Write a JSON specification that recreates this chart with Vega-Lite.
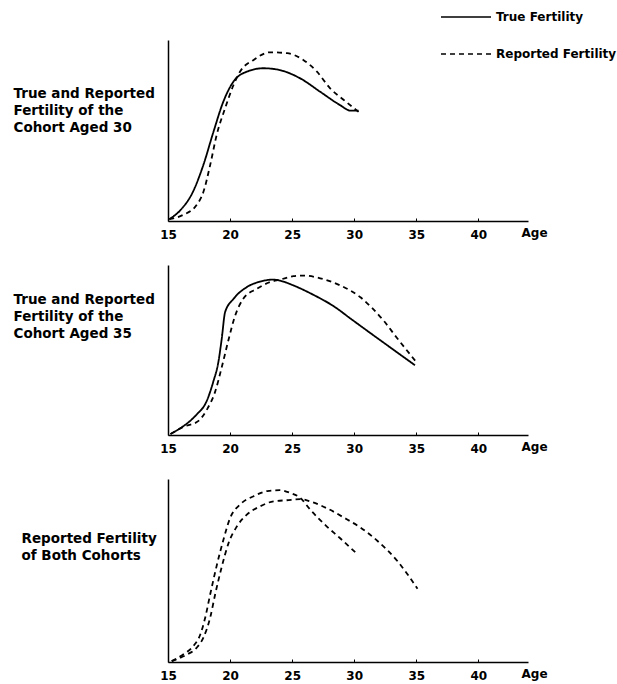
{
  "$schema": "https://vega.github.io/schema/vega-lite/v6.json",
  "background": "white",
  "padding": {"left": 13, "top": 9, "right": 0, "bottom": 2},
  "data": {"values": [
    {"p": 1, "s": "T30", "t": "True Fertility", "a": 15.1, "v": 1},
    {"p": 1, "s": "T30", "t": "True Fertility", "a": 16.0, "v": 6},
    {"p": 1, "s": "T30", "t": "True Fertility", "a": 17.0, "v": 16},
    {"p": 1, "s": "T30", "t": "True Fertility", "a": 17.85, "v": 31},
    {"p": 1, "s": "T30", "t": "True Fertility", "a": 18.65, "v": 49},
    {"p": 1, "s": "T30", "t": "True Fertility", "a": 19.46, "v": 66},
    {"p": 1, "s": "T30", "t": "True Fertility", "a": 20.27, "v": 77},
    {"p": 1, "s": "T30", "t": "True Fertility", "a": 21.35, "v": 82.5},
    {"p": 1, "s": "T30", "t": "True Fertility", "a": 22.7, "v": 84.4},
    {"p": 1, "s": "T30", "t": "True Fertility", "a": 24.0, "v": 83.4},
    {"p": 1, "s": "T30", "t": "True Fertility", "a": 25.65, "v": 78.8},
    {"p": 1, "s": "T30", "t": "True Fertility", "a": 27.26, "v": 71.4},
    {"p": 1, "s": "T30", "t": "True Fertility", "a": 28.87, "v": 64},
    {"p": 1, "s": "T30", "t": "True Fertility", "a": 29.7, "v": 61},
    {"p": 1, "s": "T30", "t": "True Fertility", "a": 30.35, "v": 61},
    {"p": 1, "s": "R30", "t": "Reported Fertility", "a": 15.1, "v": 1},
    {"p": 1, "s": "R30", "t": "Reported Fertility", "a": 16.2, "v": 3.3},
    {"p": 1, "s": "R30", "t": "Reported Fertility", "a": 17.3, "v": 8.8},
    {"p": 1, "s": "R30", "t": "Reported Fertility", "a": 17.85, "v": 16},
    {"p": 1, "s": "R30", "t": "Reported Fertility", "a": 18.4, "v": 31},
    {"p": 1, "s": "R30", "t": "Reported Fertility", "a": 18.92, "v": 47.5},
    {"p": 1, "s": "R30", "t": "Reported Fertility", "a": 19.6, "v": 62.3},
    {"p": 1, "s": "R30", "t": "Reported Fertility", "a": 20.27, "v": 75},
    {"p": 1, "s": "R30", "t": "Reported Fertility", "a": 20.8, "v": 82.5},
    {"p": 1, "s": "R30", "t": "Reported Fertility", "a": 21.9, "v": 89},
    {"p": 1, "s": "R30", "t": "Reported Fertility", "a": 23.2, "v": 93.2},
    {"p": 1, "s": "R30", "t": "Reported Fertility", "a": 24.6, "v": 92.7},
    {"p": 1, "s": "R30", "t": "Reported Fertility", "a": 25.9, "v": 89},
    {"p": 1, "s": "R30", "t": "Reported Fertility", "a": 27.0, "v": 82.5},
    {"p": 1, "s": "R30", "t": "Reported Fertility", "a": 28.06, "v": 73.3},
    {"p": 1, "s": "R30", "t": "Reported Fertility", "a": 29.14, "v": 67},
    {"p": 1, "s": "R30", "t": "Reported Fertility", "a": 30.4, "v": 60},
    {"p": 2, "s": "T35", "t": "True Fertility", "a": 15.2, "v": 0.6},
    {"p": 2, "s": "T35", "t": "True Fertility", "a": 16.2, "v": 5},
    {"p": 2, "s": "T35", "t": "True Fertility", "a": 17.3, "v": 12},
    {"p": 2, "s": "T35", "t": "True Fertility", "a": 18.1, "v": 19.7},
    {"p": 2, "s": "T35", "t": "True Fertility", "a": 18.65, "v": 31.4},
    {"p": 2, "s": "T35", "t": "True Fertility", "a": 19.06, "v": 43},
    {"p": 2, "s": "T35", "t": "True Fertility", "a": 19.33, "v": 56.7},
    {"p": 2, "s": "T35", "t": "True Fertility", "a": 19.6, "v": 72.3},
    {"p": 2, "s": "T35", "t": "True Fertility", "a": 20.27, "v": 80},
    {"p": 2, "s": "T35", "t": "True Fertility", "a": 21.35, "v": 87},
    {"p": 2, "s": "T35", "t": "True Fertility", "a": 22.4, "v": 90.2},
    {"p": 2, "s": "T35", "t": "True Fertility", "a": 23.5, "v": 91.4},
    {"p": 2, "s": "T35", "t": "True Fertility", "a": 24.03, "v": 90.8},
    {"p": 2, "s": "T35", "t": "True Fertility", "a": 25.1, "v": 88},
    {"p": 2, "s": "T35", "t": "True Fertility", "a": 26.7, "v": 82.5},
    {"p": 2, "s": "T35", "t": "True Fertility", "a": 28.4, "v": 75.5},
    {"p": 2, "s": "T35", "t": "True Fertility", "a": 29.7, "v": 68.5},
    {"p": 2, "s": "T35", "t": "True Fertility", "a": 31.2, "v": 60.5},
    {"p": 2, "s": "T35", "t": "True Fertility", "a": 33.0, "v": 51},
    {"p": 2, "s": "T35", "t": "True Fertility", "a": 34.9, "v": 41},
    {"p": 2, "s": "R35", "t": "Reported Fertility", "a": 15.2, "v": 0.6},
    {"p": 2, "s": "R35", "t": "Reported Fertility", "a": 16.3, "v": 5},
    {"p": 2, "s": "R35", "t": "Reported Fertility", "a": 17.4, "v": 8},
    {"p": 2, "s": "R35", "t": "Reported Fertility", "a": 18.2, "v": 15.8},
    {"p": 2, "s": "R35", "t": "Reported Fertility", "a": 18.8, "v": 25.5},
    {"p": 2, "s": "R35", "t": "Reported Fertility", "a": 19.3, "v": 39},
    {"p": 2, "s": "R35", "t": "Reported Fertility", "a": 19.84, "v": 55},
    {"p": 2, "s": "R35", "t": "Reported Fertility", "a": 20.4, "v": 70},
    {"p": 2, "s": "R35", "t": "Reported Fertility", "a": 21.05, "v": 80},
    {"p": 2, "s": "R35", "t": "Reported Fertility", "a": 22.15, "v": 86},
    {"p": 2, "s": "R35", "t": "Reported Fertility", "a": 23.2, "v": 89.9},
    {"p": 2, "s": "R35", "t": "Reported Fertility", "a": 24.03, "v": 91.4},
    {"p": 2, "s": "R35", "t": "Reported Fertility", "a": 25.1, "v": 93.4},
    {"p": 2, "s": "R35", "t": "Reported Fertility", "a": 25.9, "v": 93.8},
    {"p": 2, "s": "R35", "t": "Reported Fertility", "a": 27.26, "v": 92.2},
    {"p": 2, "s": "R35", "t": "Reported Fertility", "a": 28.87, "v": 88},
    {"p": 2, "s": "R35", "t": "Reported Fertility", "a": 30.5, "v": 81},
    {"p": 2, "s": "R35", "t": "Reported Fertility", "a": 31.4, "v": 75},
    {"p": 2, "s": "R35", "t": "Reported Fertility", "a": 32.4, "v": 67},
    {"p": 2, "s": "R35", "t": "Reported Fertility", "a": 33.4, "v": 57.5},
    {"p": 2, "s": "R35", "t": "Reported Fertility", "a": 35.05, "v": 42.5},
    {"p": 3, "s": "R30", "t": "Reported Fertility", "a": 15.3, "v": 0.5},
    {"p": 3, "s": "R30", "t": "Reported Fertility", "a": 16.2, "v": 4},
    {"p": 3, "s": "R30", "t": "Reported Fertility", "a": 17.04, "v": 8.7},
    {"p": 3, "s": "R30", "t": "Reported Fertility", "a": 17.6, "v": 15},
    {"p": 3, "s": "R30", "t": "Reported Fertility", "a": 18.0, "v": 24.3},
    {"p": 3, "s": "R30", "t": "Reported Fertility", "a": 18.4, "v": 37},
    {"p": 3, "s": "R30", "t": "Reported Fertility", "a": 18.9, "v": 52},
    {"p": 3, "s": "R30", "t": "Reported Fertility", "a": 19.46, "v": 66.7},
    {"p": 3, "s": "R30", "t": "Reported Fertility", "a": 20.0, "v": 78.6},
    {"p": 3, "s": "R30", "t": "Reported Fertility", "a": 20.8, "v": 86},
    {"p": 3, "s": "R30", "t": "Reported Fertility", "a": 21.9, "v": 90.6},
    {"p": 3, "s": "R30", "t": "Reported Fertility", "a": 23.0, "v": 93.4},
    {"p": 3, "s": "R30", "t": "Reported Fertility", "a": 24.0, "v": 93.9},
    {"p": 3, "s": "R30", "t": "Reported Fertility", "a": 24.84, "v": 92.4},
    {"p": 3, "s": "R30", "t": "Reported Fertility", "a": 25.65, "v": 89.7},
    {"p": 3, "s": "R30", "t": "Reported Fertility", "a": 26.45, "v": 83.3},
    {"p": 3, "s": "R30", "t": "Reported Fertility", "a": 27.8, "v": 74},
    {"p": 3, "s": "R30", "t": "Reported Fertility", "a": 28.87, "v": 67.6},
    {"p": 3, "s": "R30", "t": "Reported Fertility", "a": 30.08, "v": 60},
    {"p": 3, "s": "R35", "t": "Reported Fertility", "a": 15.3, "v": 0.5},
    {"p": 3, "s": "R35", "t": "Reported Fertility", "a": 16.5, "v": 4},
    {"p": 3, "s": "R35", "t": "Reported Fertility", "a": 17.3, "v": 7.7},
    {"p": 3, "s": "R35", "t": "Reported Fertility", "a": 17.85, "v": 13.3},
    {"p": 3, "s": "R35", "t": "Reported Fertility", "a": 18.4, "v": 24.3},
    {"p": 3, "s": "R35", "t": "Reported Fertility", "a": 18.8, "v": 37},
    {"p": 3, "s": "R35", "t": "Reported Fertility", "a": 19.33, "v": 52},
    {"p": 3, "s": "R35", "t": "Reported Fertility", "a": 19.87, "v": 64.8},
    {"p": 3, "s": "R35", "t": "Reported Fertility", "a": 20.54, "v": 74},
    {"p": 3, "s": "R35", "t": "Reported Fertility", "a": 21.35, "v": 80.5},
    {"p": 3, "s": "R35", "t": "Reported Fertility", "a": 22.4, "v": 85},
    {"p": 3, "s": "R35", "t": "Reported Fertility", "a": 23.5, "v": 87.8},
    {"p": 3, "s": "R35", "t": "Reported Fertility", "a": 24.57, "v": 88.4},
    {"p": 3, "s": "R35", "t": "Reported Fertility", "a": 25.65, "v": 89},
    {"p": 3, "s": "R35", "t": "Reported Fertility", "a": 26.45, "v": 87.8},
    {"p": 3, "s": "R35", "t": "Reported Fertility", "a": 27.8, "v": 84},
    {"p": 3, "s": "R35", "t": "Reported Fertility", "a": 29.4, "v": 78},
    {"p": 3, "s": "R35", "t": "Reported Fertility", "a": 30.5, "v": 73.5},
    {"p": 3, "s": "R35", "t": "Reported Fertility", "a": 31.9, "v": 66},
    {"p": 3, "s": "R35", "t": "Reported Fertility", "a": 33.5, "v": 55},
    {"p": 3, "s": "R35", "t": "Reported Fertility", "a": 35.1, "v": 40}
  ]},
  "bounds": "flush",
  "spacing": 44,
  "vconcat": [
    {
      "width": 360, "height": 181,
      "transform": [{"filter": "datum.p == 1"}],
      "mark": {"type": "line", "interpolate": "monotone", "strokeWidth": 1.8, "color": "black"},
      "encoding": {
        "x": {"field": "a", "type": "quantitative", "scale": {"domain": [15, 44], "nice": false, "zero": false},
              "axis": {"values": [15, 20, 25, 30, 35, 40], "title": "Age", "titleX": 353, "titleY": 11, "titleAlign": "left", "titleBaseline": "middle"}},
        "y": {"field": "v", "type": "quantitative", "scale": {"domain": [0, 100]},
              "axis": {"title": ["True and Reported", "Fertility of the", "Cohort Aged 30"], "titleX": -155, "titleY": 57}},
        "strokeDash": {"field": "t", "type": "nominal",
              "scale": {"domain": ["True Fertility", "Reported Fertility"], "range": [[1, 0], [5, 4]]},
              "legend": {"title": null, "orient": "none", "legendX": 272, "legendY": -31, "symbolType": "stroke", "symbolSize": 2500,
                         "symbolStrokeWidth": 1.5, "symbolStrokeColor": "black", "labelFontSize": 12, "labelFontWeight": "bold",
                         "labelFont": "DejaVu Sans", "labelColor": "black", "labelOffset": 4, "clipHeight": 16, "rowPadding": 21, "padding": 0}},
        "detail": {"field": "s"}
      }
    },
    {
      "width": 360, "height": 170,
      "transform": [{"filter": "datum.p == 2"}],
      "mark": {"type": "line", "interpolate": "monotone", "strokeWidth": 1.8, "color": "black"},
      "encoding": {
        "x": {"field": "a", "type": "quantitative", "scale": {"domain": [15, 44], "nice": false, "zero": false},
              "axis": {"values": [15, 20, 25, 30, 35, 40], "title": "Age", "titleX": 353, "titleY": 11, "titleAlign": "left", "titleBaseline": "middle"}},
        "y": {"field": "v", "type": "quantitative", "scale": {"domain": [0, 100]},
              "axis": {"title": ["True and Reported", "Fertility of the", "Cohort Aged 35"], "titleX": -155, "titleY": 38}},
        "strokeDash": {"field": "t", "type": "nominal",
              "scale": {"domain": ["True Fertility", "Reported Fertility"], "range": [[1, 0], [5, 4]]}},
        "detail": {"field": "s"}
      }
    },
    {
      "width": 360, "height": 183,
      "transform": [{"filter": "datum.p == 3"}],
      "mark": {"type": "line", "interpolate": "monotone", "strokeWidth": 1.8, "color": "black"},
      "encoding": {
        "x": {"field": "a", "type": "quantitative", "scale": {"domain": [15, 44], "nice": false, "zero": false},
              "axis": {"values": [15, 20, 25, 30, 35, 40], "title": "Age", "titleX": 353, "titleY": 11, "titleAlign": "left", "titleBaseline": "middle"}},
        "y": {"field": "v", "type": "quantitative", "scale": {"domain": [0, 100]},
              "axis": {"title": ["Reported Fertility", "of Both Cohorts"], "titleX": -147, "titleY": 63}},
        "strokeDash": {"field": "t", "type": "nominal",
              "scale": {"domain": ["True Fertility", "Reported Fertility"], "range": [[1, 0], [5, 4]]}},
        "detail": {"field": "s"}
      }
    }
  ],
  "config": {
    "view": {"stroke": null},
    "font": "DejaVu Sans",
    "axisX": {"grid": false, "domainColor": "black", "domainWidth": 1.5, "tickColor": "black", "tickSize": -3, "tickWidth": 1,
              "labelFont": "DejaVu Sans", "labelFontSize": 12, "labelFontWeight": "bold", "labelColor": "black", "labelPadding": 11,
              "labelFlush": false, "labelOverlap": false,
              "titleFont": "DejaVu Sans", "titleFontSize": 12, "titleFontWeight": "bold", "titleColor": "black"},
    "axisY": {"grid": false, "domainColor": "black", "domainWidth": 1.5, "ticks": false, "labels": false,
              "titleFont": "DejaVu Sans", "titleFontSize": 13.5, "titleFontWeight": "bold", "titleColor": "black",
              "titleAngle": 0, "titleAlign": "left", "titleBaseline": "alphabetic", "titleLineHeight": 17}
  }
}
